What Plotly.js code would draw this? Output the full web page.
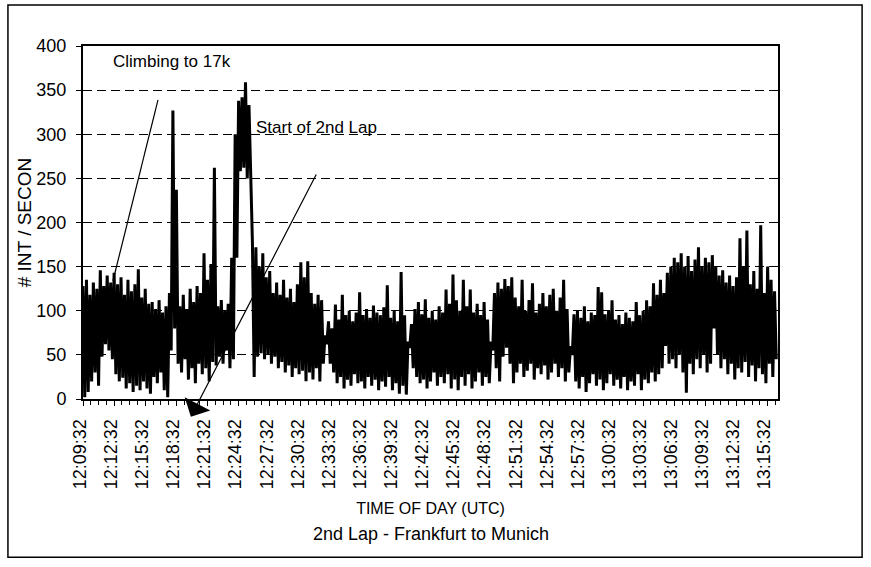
<!DOCTYPE html>
<html>
<head>
<meta charset="utf-8">
<script src="https://cdn.plot.ly/plotly-3.0.1.min.js"></script>
<style>
  html, body { margin: 0; padding: 0; background: #fff; }
  #chart { width: 871px; height: 567px; }
</style>
</head>
<body>
<div id="chart"></div>
<script>
// Tick labels (every 3 minutes, starting 12:09:32)
const timeLabels = ['12:09:32','12:12:32','12:15:32','12:18:32','12:21:32','12:24:32','12:27:32',
  '12:30:32','12:33:32','12:36:32','12:39:32','12:42:32','12:45:32','12:48:32','12:51:32',
  '12:54:32','12:57:32','13:00:32','13:03:32','13:06:32','13:09:32','13:12:32','13:15:32'];
const labelStepMinutes = 3;

// Interrupt rate: per 20-second sample, the high and low excursions
const sampleMinutes = 1 / 3;
const intHigh = [
  128,135,118,132,125,146,128,140,132,143,
  130,138,118,135,122,130,147,115,125,108,
  110,102,112,98,105,120,327,237,105,118,
  102,125,110,128,120,165,135,153,262,105,
  112,100,108,160,300,338,342,359,333,177,
  172,150,165,138,145,120,132,118,135,115,
  125,110,130,155,138,156,120,108,118,112,
  72,88,80,107,90,118,95,100,88,98,
  121,95,102,92,106,98,95,104,129,92,
  100,88,144,95,65,85,102,110,96,113,
  92,100,90,105,98,124,108,141,112,100,
  135,105,124,98,108,95,110,90,65,120,
  132,125,136,128,138,115,105,135,100,112,
  131,98,108,120,105,118,125,100,115,135,
  102,60,96,100,92,105,88,98,95,127,
  121,96,100,112,90,95,85,98,92,88,
  110,95,100,112,105,131,118,135,120,143,
  150,160,155,165,150,162,145,158,172,150,
  160,155,163,150,140,146,132,140,128,138,
  182,150,191,130,145,125,197,120,150,135,122
];
const intLow = [
  2,8,20,30,15,48,62,55,45,28,
  20,24,12,18,8,15,10,20,12,6,
  25,18,30,10,2,55,80,40,30,45,
  22,35,18,40,28,35,20,42,38,48,
  40,55,35,45,160,258,262,250,265,25,
  48,52,45,50,40,48,35,42,30,38,
  25,35,28,32,20,30,22,35,20,40,
  62,40,30,18,25,12,22,15,28,18,
  20,12,25,15,22,10,20,14,25,10,
  18,6,15,5,58,35,25,18,22,12,
  20,30,15,25,18,28,12,22,10,25,
  15,28,12,20,30,15,25,18,55,35,
  20,48,58,40,18,30,40,25,32,40,
  22,35,28,38,22,30,40,25,35,20,
  30,50,20,12,25,8,18,28,15,22,
  10,18,28,15,22,12,25,10,20,15,
  28,10,22,18,30,20,28,35,60,40,
  45,35,50,30,7,40,28,45,35,50,
  30,40,80,50,35,45,28,40,22,35,
  30,42,25,38,20,35,28,18,40,25,45
];

// Build the dense trace: high and low excursion inside each sample
const xs = [], ys = [];
for (let i = 0; i < intHigh.length; i++) {
  xs.push(i * sampleMinutes);                     ys.push(intHigh[i]);
  xs.push(i * sampleMinutes + sampleMinutes / 2); ys.push(intLow[i]);
}
const tickVals = timeLabels.map((_, k) => k * labelStepMinutes);

const FONT = 'Liberation Sans, Arial, sans-serif';

const trace = {
  x: xs, y: ys, type: 'scatter', mode: 'lines',
  line: { color: '#000', width: 3 },
  hoverinfo: 'skip', showlegend: false
};

const layout = {
  width: 871, height: 567,
  margin: { l: 83, r: 93, t: 46, b: 168 },
  paper_bgcolor: '#fff', plot_bgcolor: '#fff',
  font: { family: FONT, color: '#000', size: 18 },
  showlegend: false,
  xaxis: {
    range: [0, 67],
    tickmode: 'array', tickvals: tickVals, ticktext: timeLabels,
    tickangle: -90, tickfont: { size: 18, family: FONT },
    ticks: 'outside', ticklen: 5, tickwidth: 1, tickcolor: '#000',
    ticklabelstandoff: 6, ticklabelshift: -3,
    minor: { dtick: 0.75, ticks: 'outside', ticklen: 4, tickcolor: '#000', showgrid: false },
    showgrid: false, zeroline: false,
    showline: true, linecolor: '#000', linewidth: 2, mirror: true,
    title: { text: 'TIME OF DAY (UTC)', font: { size: 16, family: FONT }, standoff: 15 },
    automargin: false
  },
  yaxis: {
    range: [0, 400], dtick: 50, tick0: 0,
    tickfont: { size: 18, family: FONT },
    ticks: 'outside', ticklen: 5, tickwidth: 1, tickcolor: '#000',
    ticklabelstandoff: 6,
    showgrid: true, gridcolor: '#000', gridwidth: 1, griddash: '9px,5px',
    zeroline: false,
    showline: true, linecolor: '#000', linewidth: 2, mirror: true,
    title: { text: '# INT / SECON', font: { size: 19, family: FONT }, standoff: 0 },
    automargin: false
  },
  annotations: [
    { xref: 'x', yref: 'y', x: 8.6, y: 382, text: 'Climbing to 17k', showarrow: false,
      xanchor: 'center', yanchor: 'middle', font: { size: 17, family: FONT } },
    { xref: 'x', yref: 'y', x: 16.5, y: 308, text: 'Start of 2nd Lap', showarrow: false,
      xanchor: 'left', yanchor: 'middle', font: { size: 17, family: FONT } },
    { xref: 'x', yref: 'y', x: 10.4, y: -20, axref: 'x', ayref: 'y', ax: 22.56, ay: 256,
      text: '', showarrow: true, arrowhead: 1, arrowsize: 4, arrowwidth: 1.2, arrowcolor: '#000' },
    { xref: 'paper', yref: 'paper', x: 0.5, y: -0.382, text: '2nd Lap - Frankfurt to Munich',
      showarrow: false, xanchor: 'center', yanchor: 'middle', font: { size: 18, family: FONT } }
  ],
  shapes: [
    { type: 'line', xref: 'x', yref: 'y', x0: 7.23, y0: 339, x1: 2.89, y1: 134,
      line: { color: '#000', width: 1.2 } },
    { type: 'rect', xref: 'paper', yref: 'paper', x0: -0.108, x1: 1.121, y0: -0.448, y1: 1.116,
      line: { color: '#000', width: 1.5 } }
  ]
};

Plotly.newPlot('chart', [trace], layout, { displayModeBar: false, staticPlot: true });
</script>
</body>
</html>
